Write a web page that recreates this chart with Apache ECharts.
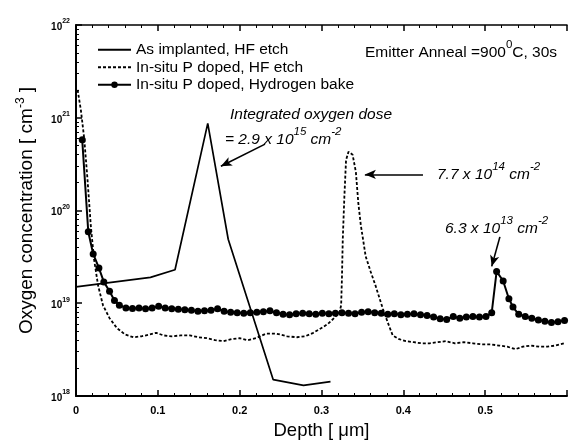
<!DOCTYPE html>
<html>
<head>
<meta charset="utf-8">
<script src="https://cdn.jsdelivr.net/npm/echarts@6/dist/echarts.min.js"></script>
<style>
html, body { margin: 0; padding: 0; background: #fff; }
#chart { width: 570px; height: 445px; }
</style>
</head>
<body>
<div id="chart"></div>
<script>
// As implanted, HF etch
const implantDepth = [0, 0.091, 0.121, 0.161, 0.186, 0.241, 0.278, 0.311];
const implantConc = [1.5e19, 1.9e19, 2.3e19, 8.7e20, 4.9e19, 1.5e18, 1.3e18, 1.43e18];

// In-situ P doped, HF etch
const hfDepth = [0.002, 0.006, 0.010, 0.014, 0.018, 0.022, 0.027, 0.033, 0.041, 0.050,
    0.060, 0.070, 0.080, 0.090, 0.098, 0.107, 0.117, 0.128, 0.139, 0.150,
    0.160, 0.170, 0.180, 0.190, 0.200, 0.210, 0.220, 0.232, 0.245, 0.258,
    0.270, 0.280, 0.290, 0.300, 0.308, 0.316, 0.322, 0.324, 0.325, 0.326,
    0.328, 0.330, 0.333, 0.335, 0.338, 0.342, 0.345, 0.348, 0.354, 0.360,
    0.366, 0.375, 0.381, 0.387, 0.395, 0.403, 0.413, 0.422, 0.432, 0.442,
    0.452, 0.463, 0.474, 0.485, 0.496, 0.507, 0.517, 0.527, 0.537, 0.546,
    0.556, 0.566, 0.576, 0.586, 0.597];
const hfConc = [2.0e21, 1.2e21, 6e20, 2.2e20, 7e19, 3e19, 1.55e19, 9.5e18, 6.9e18, 5.4e18,
    4.6e18, 4.3e18, 4.4e18, 4.6e18, 4.8e18, 4.5e18, 4.4e18, 4.5e18, 4.5e18, 4.3e18,
    4.2e18, 4.0e18, 3.9e18, 4.1e18, 4.2e18, 4.0e18, 4.2e18, 4.7e18, 4.7e18, 4.4e18,
    4.3e18, 4.4e18, 4.8e18, 5.4e18, 6.0e18, 7.0e18, 8.0e18, 9.5e18, 1.9e19, 4.9e19,
    1.45e20, 3.5e20, 4.3e20, 4.4e20, 4.0e20, 2.6e20, 1.2e20, 7.0e19, 3.2e19, 2.2e19,
    1.55e19, 8.7e18, 6.2e18, 4.5e18, 4.1e18, 3.9e18, 3.8e18, 3.7e18, 3.7e18, 3.8e18,
    3.9e18, 3.7e18, 3.8e18, 3.7e18, 3.6e18, 3.6e18, 3.5e18, 3.4e18, 3.2e18, 3.4e18,
    3.5e18, 3.4e18, 3.4e18, 3.5e18, 3.7e18];

// In-situ P doped, Hydrogen bake
const bakeDepth = [0.0076, 0.015, 0.021, 0.028, 0.034, 0.041, 0.047, 0.053, 0.061, 0.069,
    0.077, 0.085, 0.093, 0.101, 0.109, 0.117, 0.125, 0.133, 0.141, 0.149,
    0.157, 0.165, 0.173, 0.181, 0.189, 0.197, 0.205, 0.213, 0.221, 0.229,
    0.237, 0.245, 0.253, 0.261, 0.269, 0.277, 0.285, 0.293, 0.301, 0.309,
    0.317, 0.325, 0.333, 0.341, 0.349, 0.357, 0.365, 0.373, 0.381, 0.389,
    0.397, 0.405, 0.413, 0.421, 0.429, 0.437, 0.445, 0.453, 0.461, 0.469,
    0.477, 0.485, 0.493, 0.501, 0.508, 0.514, 0.522, 0.529, 0.534, 0.541,
    0.549, 0.557, 0.565, 0.573, 0.581, 0.589, 0.597];
const bakeConc = [5.8e20, 5.9e19, 3.4e19, 2.4e19, 1.7e19, 1.35e19, 1.07e19, 9.5e18, 8.9e18, 8.8e18,
    8.9e18, 8.7e18, 8.9e18, 9.3e18, 8.9e18, 8.7e18, 8.6e18, 8.5e18, 8.4e18, 8.2e18,
    8.3e18, 8.4e18, 8.7e18, 8.2e18, 8.0e18, 7.9e18, 7.8e18, 7.9e18, 8.0e18, 8.1e18,
    8.3e18, 7.9e18, 7.6e18, 7.5e18, 7.7e18, 7.8e18, 7.7e18, 7.6e18, 7.8e18, 7.7e18,
    7.8e18, 7.9e18, 7.8e18, 7.7e18, 8.0e18, 8.1e18, 7.9e18, 7.8e18, 7.6e18, 7.7e18,
    7.5e18, 7.6e18, 7.7e18, 7.5e18, 7.4e18, 7.1e18, 6.8e18, 6.7e18, 7.2e18, 6.9e18,
    7.1e18, 7.2e18, 7.1e18, 7.2e18, 7.9e18, 2.2e19, 1.74e19, 1.12e19, 9.1e18, 7.6e18,
    7.2e18, 6.9e18, 6.6e18, 6.4e18, 6.2e18, 6.3e18, 6.5e18];

const seriesNames = ['As implanted, HF etch', 'In-situ P doped, HF etch', 'In-situ P doped, Hydrogen bake'];

function zip(xs, ys) {
    return xs.map((x, i) => [x, ys[i]]);
}

const chart = echarts.init(document.getElementById('chart'));

const font = 'Liberation Sans, Arial, sans-serif';
const supRich = {
    n: { fontSize: 15.5, lineHeight: 22, verticalAlign: 'bottom', fontStyle: 'italic', fontFamily: font, fill: '#000' },
    s: { fontSize: 11.5, lineHeight: 11, verticalAlign: 'top', fontStyle: 'italic', fontFamily: font, fill: '#000' }
};
const supRichUp = {
    n: { fontSize: 15.5, lineHeight: 22, verticalAlign: 'bottom', fontFamily: font, fill: '#000' },
    s: { fontSize: 11.5, lineHeight: 11, verticalAlign: 'top', fontFamily: font, fill: '#000' }
};

function note(x, y, text, rich) {
    return {
        type: 'text',
        x: x,
        y: y,
        style: { text: text, rich: rich, verticalAlign: 'middle', fill: '#000' },
        silent: true
    };
}

// hide the legend dot on the two plain lines
const noDot = { color: 'rgba(0,0,0,0)', borderWidth: 0 };

const option = {
    animation: false,
    backgroundColor: '#fff',
    grid: { left: 76, top: 25, width: 498, height: 373 },
    legend: {
        orient: 'vertical',
        left: 92,
        top: 36,
        itemWidth: 33,
        itemHeight: 8,
        itemGap: 0,
        textStyle: { fontSize: 15.5, lineHeight: 17.5, color: '#000', fontFamily: font },
        data: [
            { name: seriesNames[0], itemStyle: noDot },
            { name: seriesNames[1], itemStyle: noDot },
            { name: seriesNames[2] }
        ]
    },
    xAxis: [
        {
            type: 'value',
            min: 0,
            max: 0.6,
            interval: 0.1,
            position: 'bottom',
            axisLine: { show: true, onZero: false, lineStyle: { color: '#000', width: 2 } },
            axisTick: { inside: true, length: 6, lineStyle: { color: '#000', width: 1.5 } },
            minorTick: { show: true, splitNumber: 5, length: 3, lineStyle: { color: '#000', width: 1 } },
            splitLine: { show: false },
            axisLabel: {
                color: '#000', fontSize: 11, fontWeight: 'bold', margin: 9, fontFamily: font,
                formatter: v => (v > 0.55 ? '' : String(+v.toFixed(1)))
            },
            name: 'Depth [ μm]',
            nameLocation: 'middle',
            nameGap: 25,
            nameTextStyle: { fontSize: 18.5, color: '#000', fontFamily: font }
        },
        {
            type: 'value',
            min: 0,
            max: 0.6,
            interval: 0.1,
            position: 'top',
            axisLine: { show: true, onZero: false, lineStyle: { color: '#000', width: 1.5 } },
            axisTick: { inside: true, length: 6, lineStyle: { color: '#000', width: 1.5 } },
            minorTick: { show: true, splitNumber: 5, length: 3, lineStyle: { color: '#000', width: 1 } },
            splitLine: { show: false },
            axisLabel: { show: false }
        }
    ],
    yAxis: {
        type: 'log',
        logBase: 10,
        min: 1e18,
        max: 1e22,
        axisLine: { show: true, lineStyle: { color: '#000', width: 2 } },
        axisTick: { inside: true, length: 6, lineStyle: { color: '#000', width: 1.5 } },
        minorTick: { show: true, splitNumber: 9, length: 3, lineStyle: { color: '#000', width: 1 } },
        splitLine: { show: false },
        axisLabel: {
            margin: 6,
            formatter: v => '{b|10}{s|' + Math.round(Math.log10(v)) + '}',
            rich: {
                b: { fontSize: 10, fontWeight: 'bold', lineHeight: 14, verticalAlign: 'bottom', color: '#000', fontFamily: font },
                s: { fontSize: 7, fontWeight: 'bold', lineHeight: 7, verticalAlign: 'top', color: '#000', fontFamily: font }
            }
        },
        name: 'Oxygen concentration [ cm{s|-3} ]',
        nameLocation: 'middle',
        nameRotate: 90,
        nameGap: 25,
        nameTextStyle: {
            fontSize: 19, color: '#000', fontFamily: font, lineHeight: 26,
            rich: { s: { fontSize: 12, lineHeight: 12, verticalAlign: 'top', color: '#000', fontFamily: font } }
        }
    },
    series: [
        {
            name: seriesNames[0],
            type: 'line',
            data: zip(implantDepth, implantConc),
            symbol: 'none',
            lineStyle: { color: '#000', width: 1.7 },
            itemStyle: { color: '#000' },
            emphasis: { disabled: true },
            markLine: {
                silent: true,
                symbol: ['none', 'arrow'],
                symbolSize: [7, 11],
                label: { show: false },
                lineStyle: { color: '#000', width: 1.6, type: 'solid' },
                emphasis: { disabled: true },
                data: [
                    [{ coord: [0.231, 5.2e20] }, { coord: [0.177, 3.0e20] }],
                    [{ coord: [0.424, 2.45e20] }, { coord: [0.353, 2.45e20] }],
                    [{ coord: [0.518, 5.2e19] }, { coord: [0.508, 2.5e19] }]
                ]
            }
        },
        {
            name: seriesNames[1],
            type: 'line',
            data: zip(hfDepth, hfConc),
            symbol: 'none',
            lineStyle: { color: '#000', width: 1.8, type: [3, 2] },
            itemStyle: { color: '#000' },
            emphasis: { disabled: true }
        },
        {
            name: seriesNames[2],
            type: 'line',
            data: zip(bakeDepth, bakeConc),
            symbol: 'circle',
            symbolSize: 7,
            showAllSymbol: true,
            lineStyle: { color: '#000', width: 2 },
            itemStyle: { color: '#000' },
            emphasis: { disabled: true }
        }
    ],
    graphic: [
        note(365, 50, '{n|Emitter Anneal =900}{s|0}{n|C, 30s}', supRichUp),
        note(230, 112, '{n|Integrated oxygen dose}', supRich),
        note(225, 137, '{n|= 2.9 x 10}{s|15}{n| cm}{s|-2}', supRich),
        note(437, 172, '{n|7.7 x 10}{s|14}{n| cm}{s|-2}', supRich),
        note(445, 226, '{n|6.3 x 10}{s|13}{n| cm}{s|-2}', supRich)
    ]
};

chart.setOption(option);
</script>
</body>
</html>
